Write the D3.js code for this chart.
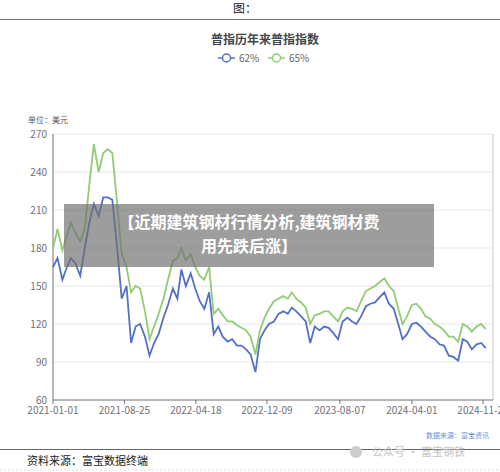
<!DOCTYPE html>
<html><head><meta charset="utf-8">
<script src="https://cdn.jsdelivr.net/npm/d3@7"></script>
<style>body{margin:0;background:#fff;font-family:"Noto Sans CJK SC","Noto Sans",sans-serif}</style>
</head><body>
<svg id="c" width="500" height="472"></svg>
<script>
// semi-monthly readings from 2021-01-01
const START = "2021-01-01";
const s62 = [165,172,155,165,172,168,158,180,200,215,205,220,220,218,180,140,150,105,118,120,110,95,105,112,125,135,148,140,163,150,160,148,138,132,145,112,118,110,106,108,103,103,100,96,82,108,115,120,122,128,130,128,133,130,126,122,105,118,115,118,117,113,108,122,125,122,120,126,134,136,137,141,145,136,132,120,108,112,120,121,118,114,110,108,104,103,95,94,91,108,106,100,104,105,101];
const s65 = [180,195,178,190,200,192,185,195,230,262,240,255,258,255,215,175,165,145,150,148,130,108,118,128,140,155,170,172,180,170,175,165,158,155,165,128,132,127,122,122,119,117,115,110,96,115,125,132,138,140,142,140,145,140,137,133,120,127,128,130,130,126,122,130,133,132,130,138,146,148,150,153,156,150,146,132,120,126,135,136,132,126,124,120,118,115,110,110,106,120,118,114,118,120,116];
const xTicks = ["2021-01-01","2021-08-25","2022-04-18","2022-12-09","2023-08-07","2024-04-01","2024-11-22"];
const yTicks = [60,90,120,150,180,210,240,270];
const seriesNames = ["62%","65%"];
const colors = ["#5470c6","#91cc75"];

const parse = d3.timeParse("%Y-%m-%d");
const t0 = parse(START);
const dates = s62.map((d,i)=> d3.timeDay.offset(d3.timeMonth.offset(t0, Math.floor(i/2)), (i%2)*15));

const svg = d3.select("#c");
const L=53,R=493,T=134,B=400;
const x = d3.scaleTime().domain([t0, parse("2024-12-25")]).range([L,R]);
const y = d3.scaleLinear().domain([60,270]).range([B,T]);

// header
svg.append("text").attr("x",245).attr("y",13).attr("text-anchor","middle").attr("font-size",12).attr("fill","#222").text("图：");
svg.append("line").attr("x1",0).attr("x2",500).attr("y1",19.5).attr("y2",19.5).attr("stroke","#777").attr("stroke-width",1.2);
svg.append("text").attr("x",265).attr("y",44).attr("text-anchor","middle").attr("font-size",12).attr("font-weight","bold").attr("fill","#464646").text("普指历年来普指指数");
const lg = svg.append("g");
seriesNames.forEach((n,i)=>{
  const gx = 218+i*50;
  lg.append("line").attr("x1",gx).attr("x2",gx+17).attr("y1",58).attr("y2",58).attr("stroke",colors[i]).attr("stroke-width",1.5);
  lg.append("circle").attr("cx",gx+8.5).attr("cy",58).attr("r",4).attr("fill","#fff").attr("stroke",colors[i]).attr("stroke-width",1.5);
  lg.append("text").attr("x",gx+21).attr("y",62).attr("font-size",10).attr("fill","#666").text(n);
});
svg.append("text").attr("x",28).attr("y",123).attr("font-size",8).attr("fill","#555").text("单位：美元");

// grid & axes
svg.append("g").selectAll("line").data(yTicks.slice(1)).join("line")
  .attr("x1",L).attr("x2",R).attr("y1",d=>y(d)).attr("y2",d=>y(d)).attr("stroke","#e0e6f1");
svg.append("g").selectAll("text").data(yTicks).join("text")
  .attr("x",L-6).attr("y",d=>y(d)+4).attr("text-anchor","end").attr("font-size",10).attr("fill","#6e7079").text(d=>d);
svg.append("line").attr("x1",L).attr("x2",L).attr("y1",T).attr("y2",B).attr("stroke","#6e7079");
svg.append("line").attr("x1",R).attr("x2",R).attr("y1",T).attr("y2",B).attr("stroke","#c8c8c8");
svg.append("line").attr("x1",L).attr("x2",R).attr("y1",B).attr("y2",B).attr("stroke","#6e7079");
const xa = svg.append("g");
xTicks.forEach(t=>{
  const px = x(parse(t));
  xa.append("line").attr("x1",px).attr("x2",px).attr("y1",B).attr("y2",B+4).attr("stroke","#6e7079");
  xa.append("text").attr("x",px).attr("y",B+14).attr("text-anchor","middle").attr("font-size",10).attr("fill","#6e7079").text(t);
});

// lines
const line = d3.line().x((d,i)=>x(dates[i])).y(d=>y(d)).curve(d3.curveLinear);
[s62,s65].forEach((s,i)=>{
  svg.append("path").attr("d",line(s)).attr("fill","none").attr("stroke",colors[i]).attr("stroke-width",1.8);
});

// overlay banner
svg.append("rect").attr("x",64).attr("y",204).attr("width",370).attr("height",63).attr("fill","rgba(110,110,110,0.68)");
svg.append("text").attr("x",249).attr("y",228).attr("text-anchor","middle").attr("font-size",16).attr("font-weight","bold").attr("fill","#fff").text("【近期建筑钢材行情分析,建筑钢材费");
svg.append("text").attr("x",249).attr("y",252).attr("text-anchor","middle").attr("font-size",16).attr("font-weight","bold").attr("fill","#fff").text("用先跌后涨】");

// footer
svg.append("text").attr("x",489).attr("y",438).attr("text-anchor","end").attr("font-size",7).attr("fill","#6b8fd6").text("数据来源：富宝资讯");
svg.append("line").attr("x1",0).attr("x2",500).attr("y1",449.5).attr("y2",449.5).attr("stroke","#666").attr("stroke-width",1.2);
svg.append("text").attr("x",27).attr("y",465).attr("font-size",11).attr("fill","#222").text("资料来源：富宝数据终端");
svg.append("circle").attr("cx",356).attr("cy",452).attr("r",6).attr("fill","#ccc");
svg.append("text").attr("x",372).attr("y",456).attr("font-size",11).attr("fill","#c4c4c4").text("公众号 · 富宝钢铁");
svg.append("line").attr("x1",0).attr("x2",500).attr("y1",470).attr("y2",470).attr("stroke","#ddd").attr("stroke-dasharray","2,2");
</script>
</body></html>
